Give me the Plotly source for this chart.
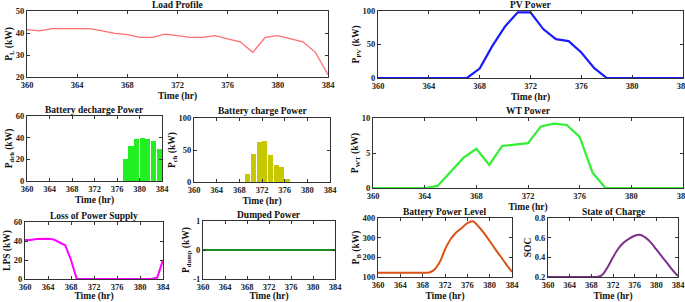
import plotly.graph_objects as go

W, H = 685, 302

hours = list(range(360, 385))
load = [41.5, 41, 42, 42, 42.3, 42, 41, 39.8, 39.3, 38, 38, 39.5, 38.8, 38, 38, 38.8, 37.3, 36, 31.2, 38, 38.8, 37.5, 36, 31.2, 21]
pv = [0, 0, 0, 0, 0, 0, 0, 0, 14, 48, 77, 98, 98, 73, 58, 55, 38, 15, 0, 0, 0, 0, 0, 0, 0]
wt = [0, 0, 0, 0, 0, 0.3, 2.3, 4.3, 5.6, 3.3, 6.0, 6.2, 6.4, 8.8, 9.2, 9.0, 7.3, 2.2, 0, 0, 0, 0, 0, 0, 0]
dch_hours = [377, 378, 379, 380, 381, 382, 383]
dch = [20, 32, 39, 40, 38.5, 37, 30]
ch_hours = [369, 370, 371, 372, 373, 374, 375, 376]
ch = [12, 43, 63, 64, 42, 27, 23, 5]
lps = [41, 41, 42, 42, 42.3, 41.5, 38.5, 35.5, 20, 0, 0, 0, 0, 0, 0, 0, 0, 0, 0, 0, 0, 0, 0, 1.5, 20]
dump = [0] * 25
pb = [122, 122, 122, 122, 122, 122, 122, 122, 122, 122, 135, 172, 240, 292, 326, 349, 374, 383, 357, 323, 283, 242, 203, 163, 126]
soc = [0.2, 0.2, 0.2, 0.2, 0.2, 0.2, 0.2, 0.2, 0.2, 0.2, 0.22, 0.3, 0.4, 0.49, 0.55, 0.59, 0.62, 0.63, 0.6, 0.55, 0.48, 0.41, 0.34, 0.27, 0.21]

xticks = [360, 364, 368, 372, 376, 380, 384]

FONT = "Liberation Serif"

panels = [
    dict(title="Load Profile", box=(27, 328, 11, 77), ylab="P<sub>L</sub> (kW)", yr=[20, 50], yt=[20, 30, 40, 50]),
    dict(title="PV Power", box=(378, 683, 11, 78), ylab="P<sub>PV</sub> (kW)", yr=[0, 100], yt=[0, 50, 100]),
    dict(title="Battery decharge Power", box=(27, 162, 116, 181), ylab="P<sub>dch</sub> (kW)", yr=[0, 60], yt=[0, 20, 40, 60]),
    dict(title="Battery charge Power", box=(194, 330, 118, 182), ylab="P<sub>ch</sub> (kW)", yr=[0, 100], yt=[0, 50, 100]),
    dict(title="WT Power", box=(373, 683, 118, 188), ylab="P<sub>WT</sub> (kW)", yr=[0, 10], yt=[0, 5, 10]),
    dict(title="Loss of Power Supply", box=(25, 163, 222, 279), ylab="LPS (kW)", yr=[0, 60], yt=[0, 20, 40, 60]),
    dict(title="Dumped Power", box=(203, 335, 221, 279), ylab="P<sub>dump</sub> (kW)", yr=[-1, 1], yt=[-1, 0, 1]),
    dict(title="Battery Power Level", box=(378, 512, 218, 277), ylab="P<sub>B</sub> (kW)", yr=[100, 400], yt=[100, 200, 300, 400]),
    dict(title="State of Charge", box=(548, 678, 218, 277), ylab="SOC", yr=[0.2, 0.8], yt=[0.2, 0.4, 0.6, 0.8]),
]

fig = go.Figure()

def ax(i):
    return ("x" if i == 0 else f"x{i+1}"), ("y" if i == 0 else f"y{i+1}")

xa, ya = ax(0)
fig.add_trace(go.Scatter(x=hours, y=load, mode="lines", line=dict(color="#ff6f6f", width=1.3), xaxis=xa, yaxis=ya))
xa, ya = ax(1)
fig.add_trace(go.Scatter(x=hours, y=pv, mode="lines", line=dict(color="#1a1aff", width=2.2), xaxis=xa, yaxis=ya))
xa, ya = ax(2)
fig.add_trace(go.Bar(x=dch_hours, y=dch, offset=0.04, width=0.9, marker=dict(color="#22ee22", line=dict(width=0)), xaxis=xa, yaxis=ya))
xa, ya = ax(3)
fig.add_trace(go.Bar(x=ch_hours, y=ch, offset=0.04, width=0.9, marker=dict(color="#c8c800", line=dict(width=0)), xaxis=xa, yaxis=ya))
xa, ya = ax(4)
fig.add_trace(go.Scatter(x=hours, y=wt, mode="lines", line=dict(color="#33ee33", width=2.2), xaxis=xa, yaxis=ya))
xa, ya = ax(5)
fig.add_trace(go.Scatter(x=hours, y=lps, mode="lines", line=dict(color="#ff00ff", width=2), xaxis=xa, yaxis=ya))
xa, ya = ax(6)
fig.add_trace(go.Scatter(x=hours, y=dump, mode="lines", line=dict(color="#228b22", width=2), xaxis=xa, yaxis=ya))
xa, ya = ax(7)
fig.add_trace(go.Scatter(x=hours, y=pb, mode="lines", line=dict(color="#d95319", width=2), line_shape="spline", xaxis=xa, yaxis=ya))
xa, ya = ax(8)
fig.add_trace(go.Scatter(x=hours, y=soc, mode="lines", line=dict(color="#7e2f8e", width=2), line_shape="spline", xaxis=xa, yaxis=ya))

tickfont = dict(family=FONT, size=8.5, color="#222")
titlefont = dict(family=FONT, size=9.5, color="#111")

layout = dict(
    width=W, height=H, margin=dict(l=0, r=0, t=0, b=0, autoexpand=False),
    paper_bgcolor="white", plot_bgcolor="white", showlegend=False,
    font=dict(family=FONT), bargap=0,
)
annotations = []
for i, p in enumerate(panels):
    x0, x1, yt0, yb0 = p["box"]
    xk = "xaxis" if i == 0 else f"xaxis{i+1}"
    yk = "yaxis" if i == 0 else f"yaxis{i+1}"
    xa, ya = ax(i)
    layout[xk] = dict(
        domain=[x0 / W, x1 / W], anchor=ya, range=[360, 384], tickvals=xticks,
        ticktext=[f"<b>{v}</b>" for v in xticks], tickfont=tickfont, automargin=False,
        ticklabeloverflow="allow",
        showline=True, mirror="ticks", linecolor="#333", linewidth=1,
        ticks="inside", ticklen=3, tickcolor="#333", showgrid=False, zeroline=False,
        title=dict(text="<b>Time (hr)</b>", font=titlefont, standoff=3),
    )
    layout[yk] = dict(
        domain=[1 - yb0 / H, 1 - yt0 / H], anchor=xa, range=p["yr"], tickvals=p["yt"],
        ticktext=[f"<b>{v}</b>" for v in p["yt"]], tickfont=tickfont, automargin=False,
        ticklabeloverflow="allow",
        showline=True, mirror="ticks", linecolor="#333", linewidth=1,
        ticks="inside", ticklen=3, tickcolor="#333", showgrid=False, zeroline=False,
        title=dict(text=f"<b>{p['ylab']}</b>", font=titlefont, standoff=1),
    )
    annotations.append(dict(
        text=f"<b>{p['title']}</b>", x=(x0 + x1) / 2 / W, y=1 - (yt0 + 0.5) / H,
        xref="paper", yref="paper", xanchor="center", yanchor="bottom",
        showarrow=False, font=titlefont,
    ))
layout["annotations"] = annotations
fig.update_layout(**layout)

fig.write_html("out.html", config={"displayModeBar": False},
               post_script="document.body.style.margin='0';document.body.style.overflow='hidden';")
